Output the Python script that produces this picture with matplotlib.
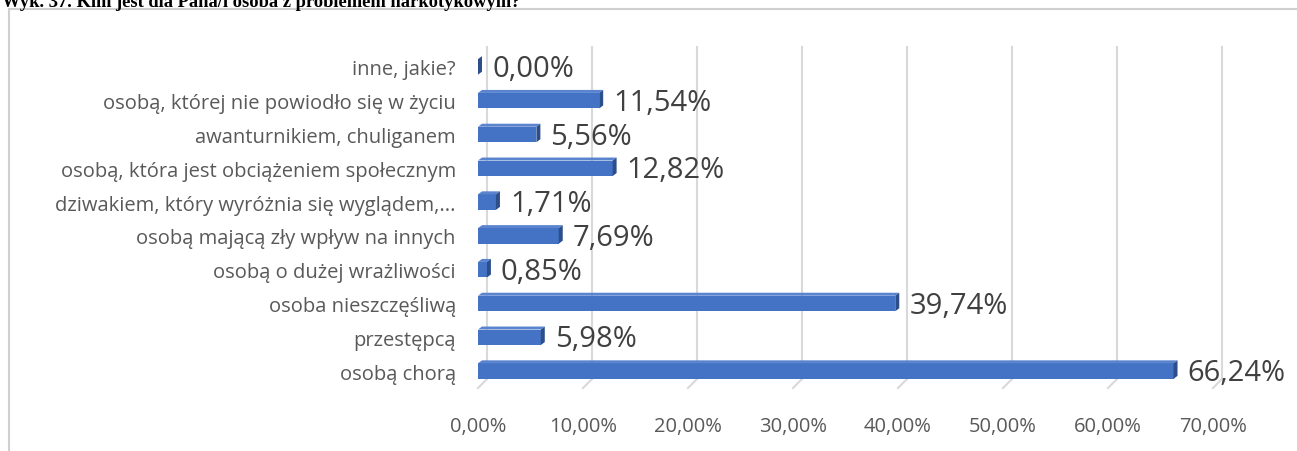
import matplotlib.pyplot as plt
from matplotlib.patches import Polygon, Rectangle

categories = ["osobą chorą", "przestępcą", "osoba nieszczęśliwą", "osobą o dużej wrażliwości",
              "osobą mającą zły wpływ na innych", "dziwakiem, który wyróżnia się wyglądem,...",
              "osobą, która jest obciążeniem społecznym", "awanturnikiem, chuliganem",
              "osobą, której nie powiodło się w życiu", "inne, jakie?"]
values = [66.24, 5.98, 39.74, 0.85, 7.69, 1.71, 12.82, 5.56, 11.54, 0.00]
xticks = [0, 10, 20, 30, 40, 50, 60, 70]
title = "Wyk. 37. Kim jest dla Pana/i osoba z problemem narkotykowym?"

W, H = 1297, 452
fig = plt.figure(figsize=(W / 100, H / 100), dpi=100)
plt.rcParams['font.family'] = ['Open Sans', 'DejaVu Sans']

# frame around the chart
fig.patches.append(Rectangle((9 / W, -0.1), 1.2, 1 - 10 / H + 0.1, transform=fig.transFigure,
                             fill=False, edgecolor="#d0d0d0", lw=1.5))
fig.text(2 / W, 1 - 7 / H, title, family="Liberation Serif", fontweight="bold",
         fontsize=13.3, va="baseline", ha="left")

x0, x1 = 478, 1213
y_top, y_bot = 51, 389
ax = fig.add_axes([x0 / W, 1 - y_bot / H, (x1 - x0) / W, (y_bot - y_top) / H])
ax.set_xlim(0, 70)
ax.set_ylim(-0.5, 9.5)
for s in ax.spines.values():
    s.set_visible(False)

xs = (x1 - x0) / 70.0
ys = (y_bot - y_top) / 10.0
gdx, gdy = 9 / xs, 9 / ys      # back-wall offset
bdx, bdy = 4 / xs, 3 / ys      # bar depth

for t in xticks:
    ax.plot([t + gdx, t + gdx], [-0.5 + gdy, 9.5 + gdy * 0.3], color="#d9d9d9", lw=1.5,
            clip_on=False, zorder=0)
    ax.plot([t, t + gdx], [-0.5, -0.5 + gdy], color="#d9d9d9", lw=1.5, clip_on=False, zorder=0)

h = 0.46
for i, v in enumerate(values):
    yb, yt = i - h / 2, i + h / 2
    ax.barh(i, v, height=h, color="#4472c4", zorder=3)
    top = Polygon([(0, yt), (v, yt), (v + bdx, yt + bdy), (bdx, yt + bdy)],
                  closed=True, facecolor="#5b84cf", edgecolor="none", zorder=3, clip_on=False)
    side = Polygon([(v, yb), (v + bdx, yb + bdy), (v + bdx, yt + bdy), (v, yt)],
                   closed=True, facecolor="#2c4f8c", edgecolor="none", zorder=4, clip_on=False)
    ax.add_patch(top)
    ax.add_patch(side)
    ax.text(v + bdx + 10 / xs, i - 0.05, f"{v:.2f}%".replace(".", ","), fontsize=21,
            color="#404040", va="center", ha="left")

ax.set_yticks(range(len(categories)))
ax.set_yticklabels(categories, fontsize=14.5, color="#595959")
ax.set_xticks(xticks)
ax.set_xticklabels([f"{t:.2f}%".replace(".", ",") for t in xticks], fontsize=14.5, color="#595959")
ax.tick_params(axis="y", length=0, pad=16)
ax.tick_params(axis="x", length=0, pad=20)

fig.savefig("out.png", dpi=100)
